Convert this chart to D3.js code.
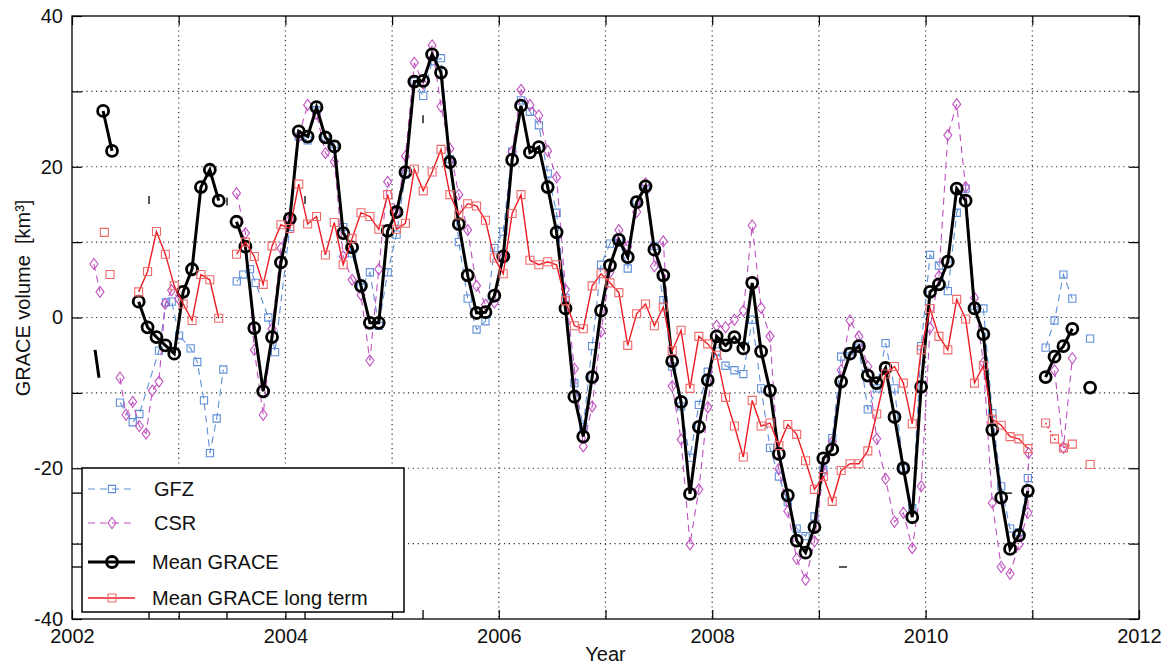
<!DOCTYPE html>
<html>
<head>
<meta charset="utf-8">
<script src="https://cdn.jsdelivr.net/npm/d3@7"></script>
<style>
body { margin:0; background:#fff; }
text { font-family: "Liberation Sans", Arial, sans-serif; }
</style>
</head>
<body>
<div id="chart-area"></div>
<script>
// monthly series, index 0 = April 2002, null = no solution
var firstMonth = 2002 + 3/12;

var meanGrace = [
    27.4, 22.1, null, null, 2.1, -1.3, -2.6, -3.7, -4.8, 3.4, 6.4, 17.3,
    19.6, 15.5, null, 12.7, 9.4, -1.4, -9.8, -2.6, 7.3, 13.1, 24.7, 24.0,
    27.9, 23.9, 22.7, 11.2, 9.3, 4.2, -0.7, -0.7, 11.5, 14.0, 19.3, 31.3,
    31.4, 34.9, 32.5, 20.6, 12.4, 5.6, 0.6, 0.7, 2.9, 8.1, 20.9, 28.1,
    21.9, 22.6, 17.3, 11.3, 1.2, -10.5, -15.8, -7.9, 0.9, 6.9, 10.3, 8.0,
    15.3, 17.4, 9.0, 5.6, -5.8, -11.2, -23.4, -14.5, -8.3, -2.5, -3.7, -2.6,
    -4.1, 4.6, -4.5, -9.7, -18.1, -23.6, -29.6, -31.2, -27.8, -18.7, -17.5, -8.5,
    -4.8, -3.8, -7.7, -8.7, -6.7, -13.2, -20.0, -26.5, -9.2, 3.4, 4.4, 7.4,
    17.1, 15.5, 1.2, -2.2, -14.9, -23.9, -30.7, -28.9, -23.0, null, -7.9, -5.2,
    -3.8, -1.5, null, -9.3
];

var meanLongTerm = [
    null, null, null, null, 3.4, 6.1, 11.4, 8.4, 4.2, 1.8, -0.4, 5.7,
    5.0, -0.1, null, 8.4, 10.0, 8.1, 4.4, 9.5, 12.3, 11.8, 17.7, 12.4,
    13.4, 8.3, 12.6, 7.0, 10.5, 13.9, 13.4, 11.7, 16.3, 11.7, 12.5, 19.7,
    16.8, 19.3, 22.3, 16.3, 13.6, 15.1, 14.8, 12.9, 7.9, 5.8, 13.8, 16.3,
    7.6, 7.0, 7.4, 7.0, 2.2, -1.1, -1.5, 4.2, 5.8, 4.6, 3.3, -3.7,
    0.5, 1.8, -1.1, 1.4, -4.4, -1.7, -9.4, -2.5, -3.5, -5.0, -10.6, -14.4,
    -18.5, -11.0, -14.4, -14.0, -17.0, -14.2, -15.5, -19.0, -22.8, -21.1, -24.4, -20.3,
    -19.4, -19.4, -17.7, -12.8, -7.5, -6.5, -8.7, -14.1, -4.3, 1.2, -2.5, -4.3,
    2.4, -0.2, -8.7, -6.4, -13.5, -14.3, -15.8, -16.1, -17.4, null, -14.0, -16.1,
    -17.3, -16.8, null, -19.5
];
// two isolated early long term solutions [year, km3]
var longTermEarly = [[2002.303, 11.3], [2002.356, 5.7]];
var longTermDottedFrom = 105; // 2011 part drawn dotted

// GFZ: irregular early solutions, then monthly from index gfzStart
var gfzEarly = [
    [2002.450, -11.3], [2002.569, -13.9], [2002.631, -12.8], [2002.815, -4.4],
    [2002.881, 2.0], [2002.934, 2.1], [2003.003, -2.4], [2003.112, -4.1],
    [2003.174, -5.9], [2003.237, -11.0], [2003.293, -18.0], [2003.356, -13.4],
    [2003.418, -6.9], [2003.480, null], [2003.544, 4.8], [2003.605, 5.7],
    [2003.668, 6.4], [2003.722, 4.6], [2003.840, 0.0], [2003.903, -4.6]
];
var gfzStart = 21;
var gfzMonthly = [
    12.0, 24.0, 23.5, 27.5, 24.0, 23.0, 12.0, 8.5, 4.0, 6.0, -1.1, 6.0,
    11.0, 19.0, 31.3, 29.4, 34.0, 34.4, 21.0, 10.0, 2.5, -1.6, -0.5, 9.2,
    11.4, 22.0, 28.8, 27.3, 25.5, 19.1, 13.9, 2.6, -8.7, -14.5, -3.8, 7.0,
    9.8, 10.5, 6.5, 15.5, 17.0, 9.5, 2.3, -6.5, -11.8, -18.6, -11.6, -7.2,
    -4.5, -6.4, -7.0, -7.5, -0.3, -9.4, -17.3, -21.1, -24.5, -28.0, -29.0, -26.4,
    -20.2, -16.0, -5.2, -4.5, -4.0, -12.2, -9.4, -3.4, -9.4, -20.0, -25.3, -3.8,
    8.3, 6.9, 3.5, 13.9, 17.1, 1.5, 1.2, -12.7, -22.4, -28.0, -28.5, -21.3,
    null, -4.0, -0.4, 5.7, 2.5, null, -2.8
];

// CSR: irregular early solutions, then monthly from index csrStart
var csrEarly = [
    [2002.206, 7.1], [2002.262, 3.4], [2002.350, null], [2002.450, -8.0],
    [2002.506, -12.9], [2002.569, -11.2], [2002.631, -14.4], [2002.694, -15.4],
    [2002.753, -9.7], [2002.815, -8.5], [2002.872, 1.8], [2002.934, 3.6],
    [2003.000, 2.5], [2003.200, null]
];
var csrStart = 15;
var csrMonthly = [
    16.5, 11.2, -4.3, -12.9, -1.5, 9.2, 13.0, 24.0, 28.2, 27.0, 21.8, 20.7,
    8.1, 5.0, 3.0, -5.7, 6.4, 18.0, 14.0, 21.4, 33.8, 31.0, 36.1, 28.0,
    22.4, 16.3, 11.6, 4.2, 1.7, 2.0, 8.0, 22.0, 30.2, 28.2, 26.8, 22.1,
    18.6, 3.7, -6.8, -17.1, -11.8, -1.9, 6.0, 11.6, 9.4, 14.0, 17.8, 6.8,
    10.1, -9.1, -16.2, -30.1, -22.8, -11.9, -1.1, -1.3, -0.3, 0.9, 12.2, 1.3,
    -2.5, -20.1, -25.7, -32.0, -34.8, -29.7, -20.5, -16.5, -7.0, -0.4, -2.5, -6.5,
    -16.1, -21.4, -27.1, -25.9, -30.6, -22.4, -1.4, 5.5, 24.2, 28.3, 17.3, 2.6,
    -6.0, -24.6, -33.1, -34.0, -30.1, -25.9, null, null, -7.0, -17.3, -5.4, null
];
var csrExtra = [[2010.965, -18.0]];

// leftovers of a second, misaligned axis in the original figure
var strayXTicks = [2002.722, 2003.453, 2004.184, 2005.290];
var strayYTicks = [-23.3, -33.1];
var strayVMarks = [[2002.722, 15.6], [2003.453, 15.4], [2004.184, 15.6], [2005.290, 26.3]];
var strayHMarks = [[2009.226, -33.1], [2010.772, -23.3]];
var straySlash = [[2002.216, -4.3], [2002.253, -8.0]];

var yearTicks = d3.range(2002, 2013);
var volumeTicks = d3.range(-40, 41, 10);
var legendNames = ["GFZ", "CSR", "Mean GRACE", "Mean GRACE long term"];

//Margin
var margin = { left:72, right:25, top:16, bottom:48 },
    width = 1164 - margin.left - margin.right,
    height = 667 - margin.top - margin.bottom;

var svg = d3.select("#chart-area").append("svg")
    .attr("width", 1164)
    .attr("height", 667);
var g = svg.append("g")
    .attr("transform", "translate(" + margin.left + "," + margin.top + ")");

//Scales
var x = d3.scaleLinear().domain([2002, 2012]).range([0, width]);
var y = d3.scaleLinear().domain([-40, 40]).range([height, 0]);

function monthTime(i) { return firstMonth + (i + 0.5) / 12; }
function monthly(vals, start) {
    return vals.map((v, i) => ({ t: monthTime(start + i), v: v }));
}
function pairs(arr) { return arr.map(d => ({ t: d[0], v: d[1] })); }

var meanPts = monthly(meanGrace, 0);
var longPts = monthly(meanLongTerm, 0);
var gfzPts = pairs(gfzEarly).concat(monthly(gfzMonthly, gfzStart));
var csrPts = pairs(csrEarly).concat(monthly(csrMonthly, csrStart), pairs(csrExtra))
    .sort((a, b) => a.t - b.t);

//Grid
var grid = g.append("g")
    .attr("stroke", "#333").attr("stroke-width", 1.2).attr("stroke-dasharray", "1.2,3.6");
grid.selectAll(".vgrid").data(yearTicks.slice(1, -1)).enter().append("line")
    .attr("x1", d => x(d)).attr("x2", d => x(d))
    .attr("y1", 0).attr("y2", height);
grid.selectAll(".hgrid").data(volumeTicks.slice(1, -1)).enter().append("line")
    .attr("y1", d => y(d)).attr("y2", d => y(d))
    .attr("x1", 0).attr("x2", width);

//Axes (ticks inward, MATLAB like)
var fmtX = d => (d % 2 === 0 ? d : "");
var fmtY = d => (d % 20 === 0 ? d : "");
g.append("g").attr("transform", "translate(0," + height + ")")
    .call(d3.axisBottom(x).tickValues(yearTicks).tickSizeInner(-9).tickSizeOuter(0)
        .tickPadding(10).tickFormat(fmtX));
g.append("g")
    .call(d3.axisTop(x).tickValues(yearTicks).tickSizeInner(-9).tickSizeOuter(0).tickFormat(""));
g.append("g")
    .call(d3.axisLeft(y).tickValues(volumeTicks).tickSizeInner(-10).tickSizeOuter(0)
        .tickPadding(9).tickFormat(fmtY));
g.append("g").attr("transform", "translate(" + width + ",0)")
    .call(d3.axisRight(y).tickValues(volumeTicks).tickSizeInner(-10).tickSizeOuter(0).tickFormat(""));
g.selectAll(".domain").remove();
g.selectAll(".tick line").attr("stroke", "#000").attr("stroke-width", 1.2);
g.selectAll(".tick text").attr("font-size", 20).attr("fill", "#111")
    .attr("font-family", "Liberation Sans, Arial, sans-serif");

// stray ticks
var stray = g.append("g").attr("stroke", "#000").attr("stroke-width", 1.3);
stray.selectAll(".sx").data(strayXTicks).enter().append("line")
    .attr("x1", d => x(d)).attr("x2", d => x(d)).attr("y1", height).attr("y2", height - 9);
stray.selectAll(".sy").data(strayYTicks).enter().append("line")
    .attr("y1", d => y(d)).attr("y2", d => y(d)).attr("x1", 0).attr("x2", 10);
stray.selectAll(".sv").data(strayVMarks).enter().append("line")
    .attr("x1", d => x(d[0])).attr("x2", d => x(d[0]))
    .attr("y1", d => y(d[1]) - 4).attr("y2", d => y(d[1]) + 4);
stray.selectAll(".sh").data(strayHMarks).enter().append("line")
    .attr("y1", d => y(d[1])).attr("y2", d => y(d[1]))
    .attr("x1", d => x(d[0]) - 4).attr("x2", d => x(d[0]) + 4);
g.append("line")
    .attr("x1", x(straySlash[0][0])).attr("y1", y(straySlash[0][1]))
    .attr("x2", x(straySlash[1][0])).attr("y2", y(straySlash[1][1]))
    .attr("stroke", "#000").attr("stroke-width", 3);

//Lines
var line = d3.line()
    .defined(d => d.v !== null)
    .x(d => x(d.t))
    .y(d => y(d.v));

var colors = { gfz: "#5f8fd8", csr: "#c052c0", mean: "#000", longLine: "#ec1c24", longMark: "#ef6a6a" };
var diamond = "M0,-5.5L4,0L0,5.5L-4,0Z";
var square = d3.symbol().type(d3.symbolSquare).size(52)();
var squareR = d3.symbol().type(d3.symbolSquare).size(64)();

function drawMarkers(pts, path, color, width) {
    g.append("g").selectAll("path").data(pts.filter(d => d.v !== null)).enter().append("path")
        .attr("d", path)
        .attr("transform", d => "translate(" + x(d.t) + "," + y(d.v) + ")")
        .attr("fill", "none").attr("stroke", color).attr("stroke-width", width);
}

// GFZ
g.append("path").attr("d", line(gfzPts)).attr("fill", "none")
    .attr("stroke", colors.gfz).attr("stroke-width", 1.1).attr("stroke-dasharray", "7,5");
drawMarkers(gfzPts, square, colors.gfz, 1.1);

// CSR
g.append("path").attr("d", line(csrPts)).attr("fill", "none")
    .attr("stroke", colors.csr).attr("stroke-width", 1.1).attr("stroke-dasharray", "7,5");
drawMarkers(csrPts, diamond, colors.csr, 1.1);

// Mean GRACE
g.append("path").attr("d", line(meanPts)).attr("fill", "none")
    .attr("stroke", colors.mean).attr("stroke-width", 3);
g.append("g").selectAll("circle").data(meanPts.filter(d => d.v !== null)).enter().append("circle")
    .attr("cx", d => x(d.t)).attr("cy", d => y(d.v)).attr("r", 5.5)
    .attr("fill", "none").attr("stroke", "#000").attr("stroke-width", 2.8);

// Mean GRACE long term
g.append("path").attr("d", line(longPts.slice(0, longTermDottedFrom))).attr("fill", "none")
    .attr("stroke", colors.longLine).attr("stroke-width", 1.4);
g.append("path").attr("d", line(longPts.slice(longTermDottedFrom))).attr("fill", "none")
    .attr("stroke", colors.longLine).attr("stroke-width", 1.6).attr("stroke-dasharray", "1.5,3");
drawMarkers(longPts.concat(pairs(longTermEarly)), squareR, colors.longMark, 1.1);

//Frame
g.append("rect").attr("width", width).attr("height", height)
    .attr("fill", "none").attr("stroke", "#000").attr("stroke-width", 1.3);

//Legend
var legend = g.append("g").attr("transform", "translate(10,452)");
legend.append("rect").attr("width", 322).attr("height", 144)
    .attr("fill", "#fff").attr("stroke", "#000").attr("stroke-width", 1.5);
var legendRows = [
    { name: legendNames[0], color: colors.gfz, dash: "7,5", w: 1.1, mark: square, mc: colors.gfz, y: 21 },
    { name: legendNames[1], color: colors.csr, dash: "7,5", w: 1.1, mark: diamond, mc: colors.csr, y: 55 },
    { name: legendNames[2], color: "#000", dash: null, w: 3, mark: "circle", mc: "#000", y: 94 },
    { name: legendNames[3], color: colors.longLine, dash: null, w: 1.4, mark: squareR, mc: colors.longMark, y: 130 }
];
legendRows.forEach(function(r) {
    legend.append("line").attr("x1", 6).attr("x2", 53).attr("y1", r.y).attr("y2", r.y)
        .attr("stroke", r.color).attr("stroke-width", r.w).attr("stroke-dasharray", r.dash);
    if (r.mark === "circle") {
        legend.append("circle").attr("cx", 30).attr("cy", r.y).attr("r", 5.5)
            .attr("fill", "none").attr("stroke", "#000").attr("stroke-width", 2.8);
    } else {
        legend.append("path").attr("d", r.mark).attr("transform", "translate(30," + r.y + ")")
            .attr("fill", "none").attr("stroke", r.mc).attr("stroke-width", 1.1);
    }
    legend.append("text").attr("x", r.name.length === 3 ? 72 : 70).attr("y", r.y + 7)
        .attr("font-size", 20).attr("fill", "#111").text(r.name);
});

//Labels
svg.append("text").attr("transform", "rotate(-90)")
    .attr("x", -298).attr("y", 30)
    .attr("text-anchor", "middle").attr("font-size", 20).attr("fill", "#111")
    .text("GRACE volume  [km³]").style("white-space", "pre");
svg.append("text").attr("x", margin.left + width / 2).attr("y", 661)
    .attr("text-anchor", "middle").attr("font-size", 20).attr("fill", "#111")
    .text("Year");
</script>
</body>
</html>
